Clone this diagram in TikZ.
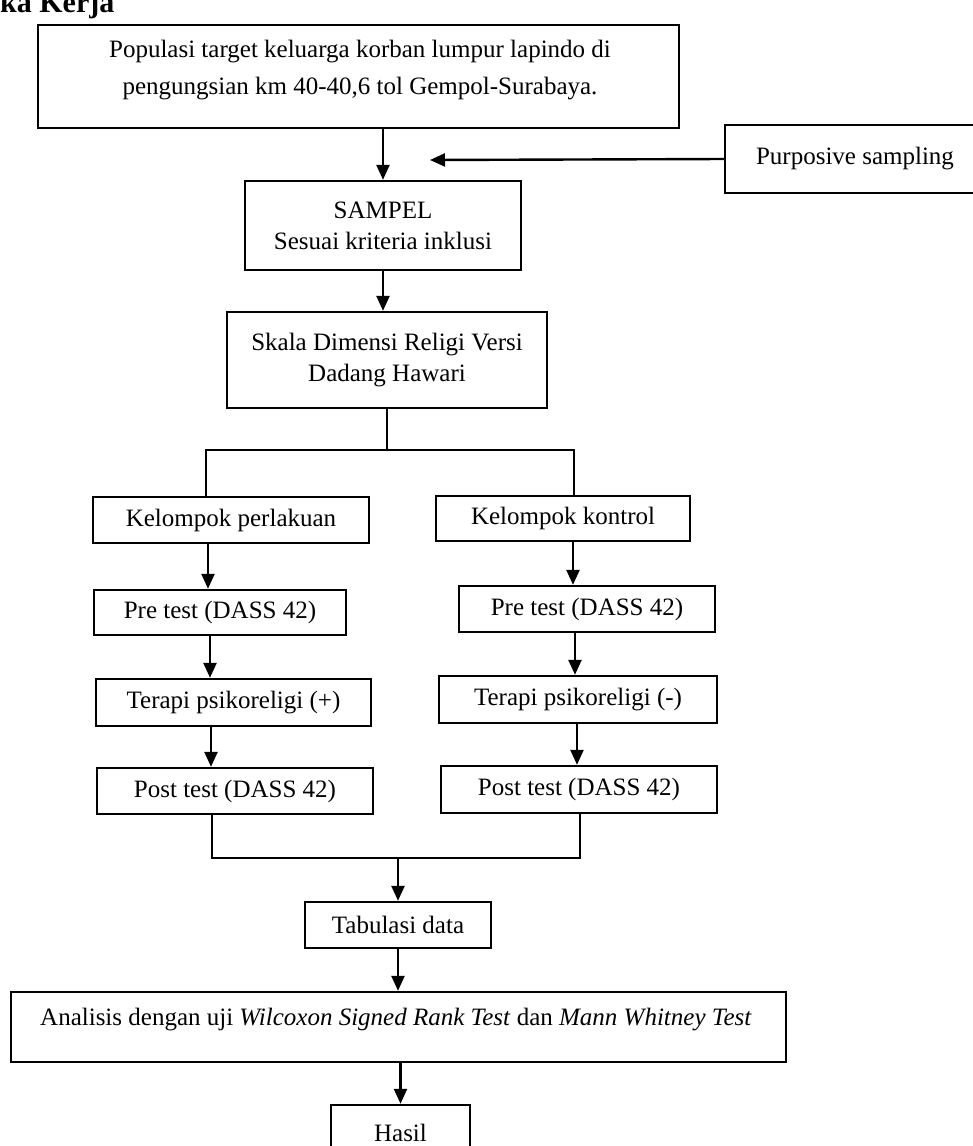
\documentclass[tikz,border=0pt]{standalone}
\usepackage{fontspec}
\setmainfont{Liberation Serif}
\usetikzlibrary{arrows.meta}
\begin{document}
\begin{tikzpicture}[x=1pt,y=-1pt,
  box/.style={draw, line width=2.4pt, inner sep=0pt, align=center, font=\fontsize{25}{31}\selectfont},
  plain/.style={inner sep=0pt, align=center, font=\fontsize{25}{31}\selectfont},
  arr/.style={-{Triangle[length=15pt,width=13pt]}, line width=2.4pt},
  ln/.style={line width=2.4pt}]
\useasboundingbox (0,0) rectangle (973,1146);
% header (cut at top, as in the reference)
\node[font=\fontsize{30}{36}\selectfont\bfseries, anchor=base west, inner sep=0pt] (hdr) at (0,12) {ka Kerja};
% nodes
\node[box, minimum width=641pt, minimum height=103pt] (top) at (358.5,76.5) {};
\node[plain] (toptext) at (360,70)
  {Populasi target keluarga korban lumpur lapindo di\\[6pt]pengungsian km 40-40,6 tol Gempol-Surabaya.};
\node[box, minimum width=260pt, minimum height=68pt] (purp) at (855,159) {Purposive sampling};
\node[box, minimum width=276pt, minimum height=89pt] (sampel) at (383,225.5) {SAMPEL\\Sesuai kriteria inklusi};
\node[box, minimum width=320pt, minimum height=96pt] (skala) at (387,360) {Skala Dimensi Religi Versi\\Dadang Hawari};
\node[box, minimum width=276pt, minimum height=46pt] (kelL) at (231,520) {Kelompok perlakuan};
\node[box, minimum width=254pt, minimum height=45pt] (kelR) at (563,518.5) {Kelompok kontrol};
\node[box, minimum width=252pt, minimum height=45pt] (preL) at (220,612.5) {Pre test (DASS 42)};
\node[box, minimum width=256pt, minimum height=46pt] (preR) at (587,609) {Pre test (DASS 42)};
\node[box, minimum width=275pt, minimum height=47pt] (terL) at (233.5,702.5) {Terapi psikoreligi (+)};
\node[box, minimum width=278pt, minimum height=47pt] (terR) at (578,699.5) {Terapi psikoreligi (-)};
\node[box, minimum width=276pt, minimum height=46pt] (postL) at (235,791) {Post test (DASS 42)};
\node[box, minimum width=276pt, minimum height=47pt] (postR) at (579,789.5) {Post test (DASS 42)};
\node[box, minimum width=186pt, minimum height=46pt] (tab) at (398,925) {Tabulasi data};
\node[box, minimum width=775pt, minimum height=70pt] (ana) at (398.5,1027) {};
\node[plain] (anatext) at (396,1020) {Analisis dengan uji \textit{Wilcoxon Signed Rank Test} dan \textit{Mann Whitney Test}};
\node[box, minimum width=139pt, minimum height=55pt] (hasil) at (400.5,1132.5) {Hasil};
% helper coordinates
\coordinate (pin) at (430,160);
\coordinate (splitL) at (206,450);
\coordinate (splitR) at (574,450);
\coordinate (cL1) at (208,0);
\coordinate (cL2) at (210,0);
\coordinate (cL3) at (211,0);
\coordinate (cR1) at (573,0);
\coordinate (cR2) at (575,0);
\coordinate (cR3) at (577,0);
\coordinate (mL) at (212,858);
\coordinate (mR) at (580,858);
% connectors
\draw[arr] (top.south -| sampel.north) -- (sampel.north);
\draw[arr] (purp.west) -- (pin);
\draw[arr] (sampel.south) -- (sampel.south |- skala.north);
\draw[ln] (skala.south) -- (skala.south |- splitL);
\draw[ln] (splitL |- kelL.north) -- (splitL) -- (splitR) -- (splitR |- kelR.north);
\draw[arr] (kelL.south -| cL1) -- (preL.north -| cL1);
\draw[arr] (preL.south -| cL2) -- (terL.north -| cL2);
\draw[arr] (terL.south -| cL3) -- (postL.north -| cL3);
\draw[arr] (kelR.south -| cR1) -- (preR.north -| cR1);
\draw[arr] (preR.south -| cR2) -- (terR.north -| cR2);
\draw[arr] (terR.south -| cR3) -- (postR.north -| cR3);
\draw[ln] (postL.south -| mL) -- (mL) -- (mR) -- (postR.south -| mR);
\draw[arr] (tab.north |- mL) -- (tab.north);
\draw[arr] (tab.south) -- (tab.south |- ana.north);
\draw[arr] (ana.south -| hasil.north) -- (hasil.north);
\end{tikzpicture}
\end{document}
